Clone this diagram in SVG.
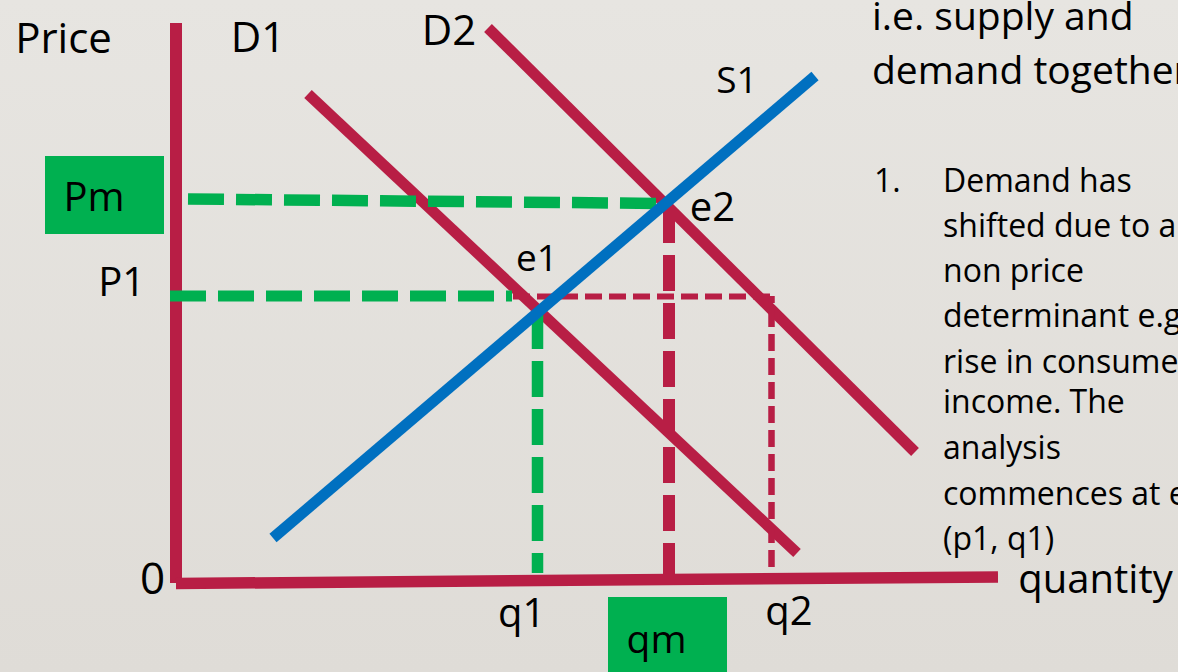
<svg xmlns="http://www.w3.org/2000/svg" width="1178" height="672" viewBox="0 0 1178 672">
<defs>
<linearGradient id="bg" x1="0" y1="0" x2="0" y2="1">
<stop offset="0" stop-color="#e7e5e1"/>
<stop offset="1" stop-color="#dfdcd7"/>
</linearGradient>
<style>
.t{font-family:"Open Sans","Liberation Sans",sans-serif;fill:#000}
.red{stroke:#b81e45;fill:none}
.blue{stroke:#0070c0;fill:none}
.grn{stroke:#00b050;fill:none}
.box{fill:#00b050}
</style>
</defs>
<rect width="1178" height="672" fill="url(#bg)"/>

<g id="axes">
<line class="red" x1="176" y1="23" x2="176" y2="583" stroke-width="12"/>
<line class="red" x1="176" y1="583.5" x2="998" y2="577" stroke-width="11.5"/>
</g>

<g id="connectors">
<g id="demand-curves">
<line id="D1-line" class="red" x1="308" y1="94" x2="797" y2="553" stroke-width="11"/>
<line id="D2-line" class="red" x1="488" y1="28" x2="915" y2="452" stroke-width="11"/>
</g>
<g id="guides">
<line class="grn" x1="188" y1="199" x2="669" y2="203.5" stroke-width="11.5" stroke-dasharray="36 12"/>
<line class="grn" x1="170" y1="296" x2="512" y2="296" stroke-width="11" stroke-dasharray="36 12"/>
<line class="grn" x1="537.5" y1="313" x2="537.5" y2="573" stroke-width="11.5" stroke-dasharray="36 12"/>
<line class="red" x1="669" y1="207" x2="669" y2="579" stroke-width="12" stroke-dasharray="36 12"/>
<line class="red" x1="513" y1="296.5" x2="771" y2="296.5" stroke-width="6" stroke-dasharray="17 7"/>
<line class="red" x1="771.5" y1="296" x2="771.5" y2="568" stroke-width="6.5" stroke-dasharray="17 7" stroke-dashoffset="10"/>
</g>
<line id="S1-line" class="blue" x1="273" y1="538" x2="815" y2="76" stroke-width="11"/>
</g>

<g id="axis-labels">
<text class="t" x="63.5" y="53" font-size="42" text-anchor="middle">Price</text>
<text class="t" x="152.7" y="594" font-size="44" text-anchor="middle">0</text>
<text class="t" x="1095.5" y="593" font-size="40" text-anchor="middle">quantity</text>
</g>

<g id="curve-labels">
<text class="t" x="258" y="52" font-size="42" text-anchor="middle">D1</text>
<text class="t" x="449" y="45" font-size="42" text-anchor="middle">D2</text>
<text class="t" x="737" y="93" font-size="37" text-anchor="middle">S1</text>
</g>

<g id="equilibria">
<text class="t" x="537" y="271" font-size="37" text-anchor="middle">e1</text>
<text class="t" x="712.5" y="221" font-size="40" text-anchor="middle">e2</text>
</g>

<g id="price-labels">
<g id="Pm">
<rect class="box" x="45" y="156" width="119" height="78"/>
<text class="t" x="94" y="211" font-size="40" text-anchor="middle">Pm</text>
</g>
<text id="P1" class="t" x="121.7" y="296" font-size="40" text-anchor="middle">P1</text>
</g>

<g id="quantity-labels">
<text id="q1" class="t" x="521.7" y="627" font-size="40" text-anchor="middle">q1</text>
<text id="q2" class="t" x="789" y="625" font-size="40" text-anchor="middle">q2</text>
<g id="qm">
<rect class="box" x="608" y="597" width="119" height="80"/>
<text class="t" x="656.5" y="653" font-size="39" text-anchor="middle">qm</text>
</g>
</g>

<g id="notes">
<text class="t" x="872" y="29.5" font-size="39">i.e. supply and</text>
<text class="t" x="872" y="83.5" font-size="39">demand together</text>
<text class="t" x="874" y="191.7" font-size="32">1.</text>
<g font-size="32">
<text class="t" x="943" y="191.7">Demand has</text>
<text class="t" x="943" y="237.3">shifted due to a</text>
<text class="t" x="943" y="281.7">non price</text>
<text class="t" x="943" y="326.7">determinant e.g.</text>
<text class="t" x="943" y="373.3">rise in consumer</text>
<text class="t" x="943" y="413">income. The</text>
<text class="t" x="943" y="459.3">analysis</text>
<text class="t" x="943" y="505">commences at e1</text>
<text class="t" x="943" y="550">(p1, q1)</text>
</g>
</g>
</svg>
